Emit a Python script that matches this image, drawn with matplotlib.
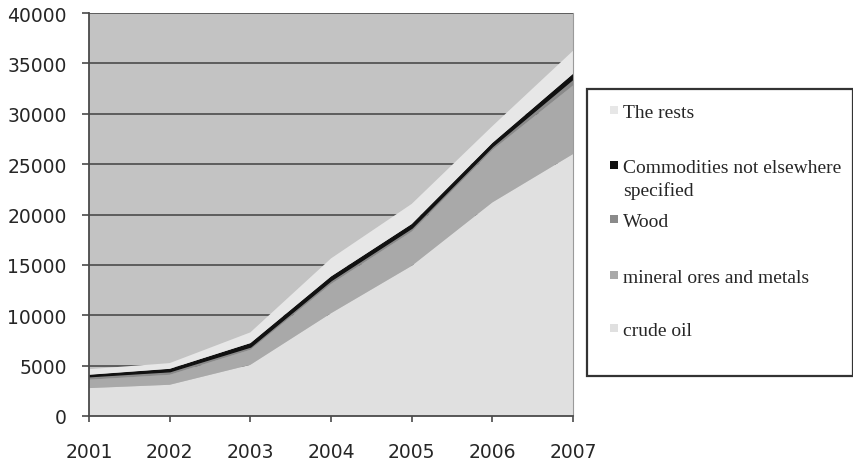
import matplotlib
matplotlib.use('Agg')
import matplotlib.pyplot as plt
import matplotlib.patches as mpatches

# 年別データ（積み上げ前の値）
years = [2001, 2002, 2003, 2004, 2005, 2006, 2007]
crude_oil = [2770, 3100, 5080, 10200, 14900, 21200, 26000]
mineral_ores = [830, 990, 1490, 2900, 3400, 5200, 6800]
wood = [350, 360, 330, 400, 400, 400, 700]
commodities_nes = [140, 230, 330, 350, 350, 300, 460]
the_rests = [560, 570, 1070, 1790, 2000, 1670, 2290]

series_labels = ['crude oil', 'mineral ores and metals', 'Wood',
                 'Commodities not elsewhere\nspecified', 'The rests']
series_colors = ['#e0e0e0', '#a9a9a9', '#8a8a8a', '#111111', '#e7e7e7']
yticks = [0, 5000, 10000, 15000, 20000, 25000, 30000, 35000, 40000]

BG_COLOR = '#c3c3c3'
GRID_COLOR = '#555555'
TEXT_COLOR = '#262626'

fig = plt.figure(figsize=(8.54, 4.64), dpi=100)
fig.patch.set_facecolor('white')
ax = fig.add_axes([89 / 854, 47 / 464, 484 / 854, 403 / 464])
ax.set_facecolor(BG_COLOR)

polys = ax.stackplot(years, crude_oil, mineral_ores, wood, commodities_nes, the_rests,
                     colors=series_colors, linewidth=0)
# 黒い帯は線っぽく見えるので縁取りを追加
polys[3].set_edgecolor('#111111')
polys[3].set_linewidth(1.0)

ax.set_xlim(years[0], years[-1])
ax.set_ylim(0, 40000)
ax.set_xticks(years)
ax.set_yticks(yticks)
ax.set_axisbelow(True)
ax.yaxis.grid(True, color=GRID_COLOR, linewidth=1.3)
ax.xaxis.grid(False)

ax.spines['top'].set_visible(False)
ax.spines['right'].set_color('#9a9a9a')
ax.spines['right'].set_linewidth(0.8)
ax.spines['left'].set_color('#4a4a4a')
ax.spines['left'].set_linewidth(1.3)
ax.spines['bottom'].set_color('#4a4a4a')
ax.spines['bottom'].set_linewidth(1.3)

ax.tick_params(axis='y', direction='out', length=5, width=1.2, color='#4a4a4a',
               pad=11, labelsize=13.5, labelcolor=TEXT_COLOR)
ax.tick_params(axis='x', direction='out', length=4.5, width=1.2, color='#4a4a4a',
               pad=14, labelsize=13.5, labelcolor=TEXT_COLOR)

# ========== 凡例（手動配置） ==========
box = mpatches.Rectangle((587 / 854, (464 - 377) / 464), 266 / 854, 287 / 464,
                         transform=fig.transFigure, facecolor='white',
                         edgecolor='#333333', linewidth=1.6)
fig.add_artist(box)

legend_rows = [112, 167, 221, 277, 330]
for i, ypx in enumerate(legend_rows):
    idx = 4 - i
    sq = mpatches.Rectangle((610 / 854, (464 - ypx - 3) / 464), 8 / 854, 8 / 464,
                            transform=fig.transFigure, facecolor=series_colors[idx],
                            edgecolor='none')
    fig.add_artist(sq)
    fig.text(623 / 854, (464 - ypx + 7) / 464, series_labels[idx], ha='left', va='top',
             family='Liberation Serif', fontsize=14, color=TEXT_COLOR,
             linespacing=1.35)

plt.savefig('out.png', dpi=100, facecolor=fig.get_facecolor())
plt.close()
